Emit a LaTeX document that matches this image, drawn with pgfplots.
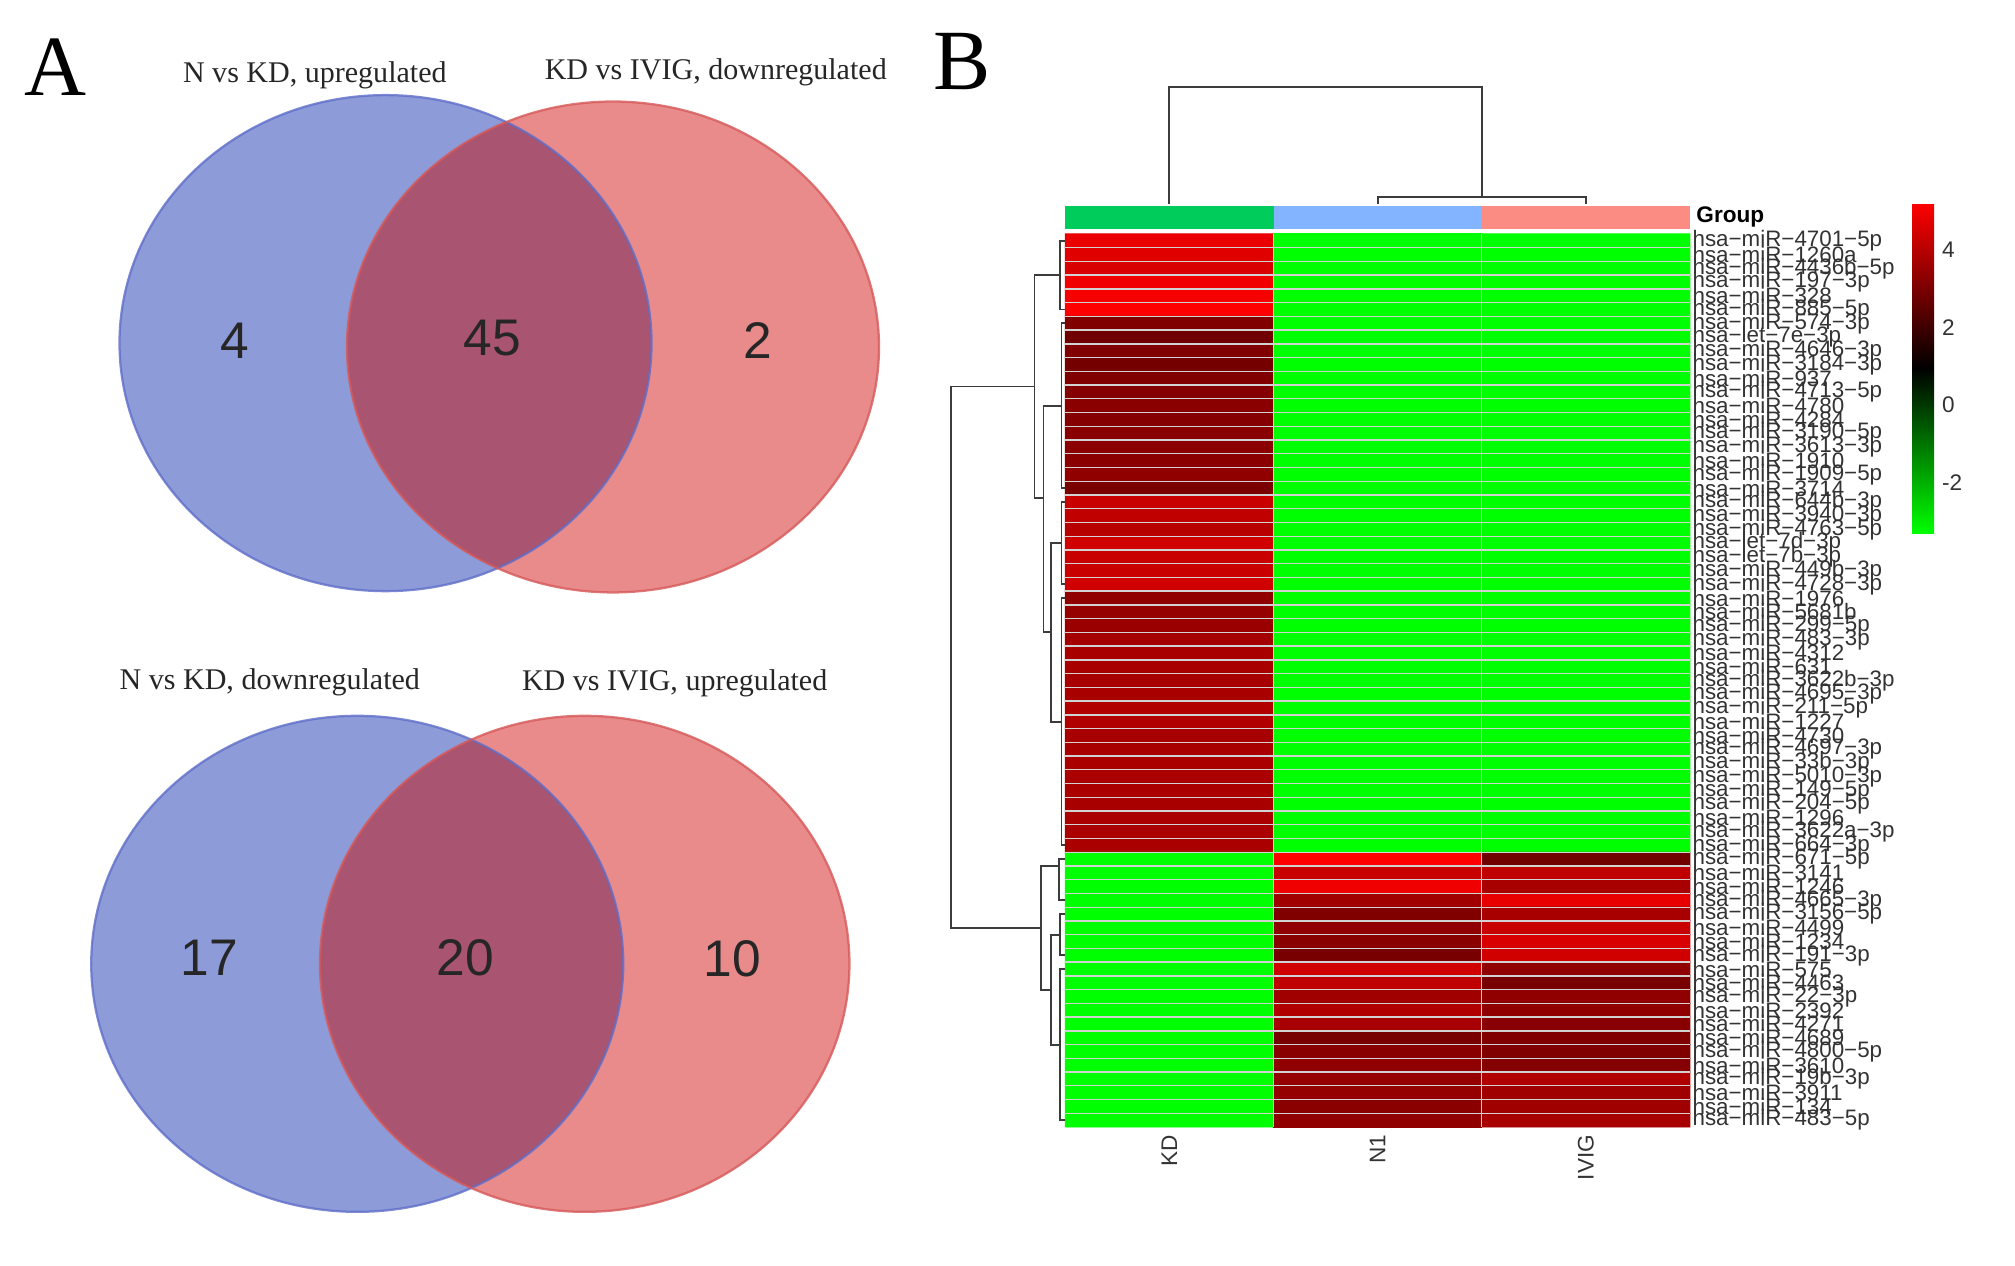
\documentclass[border=0pt]{standalone}
\usepackage{pgfplots}
\pgfplotsset{compat=1.18}
\usepackage{fontspec}
\setmainfont{Liberation Serif}
\newfontfamily\arial{Liberation Sans}

\definecolor{vblue}{RGB}{141,155,216}
\definecolor{vred}{RGB}{233,139,139}
\definecolor{vmix}{RGB}{169,84,112}
\definecolor{vblueedge}{RGB}{95,110,200}
\definecolor{vrededge}{RGB}{214,88,88}
\definecolor{gkd}{RGB}{0,204,92}
\definecolor{gn}{RGB}{130,180,255}
\definecolor{givig}{RGB}{250,140,132}
\definecolor{dend}{RGB}{60,60,60}

\begin{document}
\begin{tikzpicture}
% whole figure is 1568 x 985 picture units of 0.02cm
\useasboundingbox (0,0) rectangle (31.36cm,19.7cm);
% panel A: two Venn diagrams
\begin{axis}[name=base, at={(0,0)}, anchor=south west,
    scale only axis, width=31.36cm, height=19.7cm,
    xmin=0, xmax=1568, ymin=0, ymax=985, y dir=reverse,
    hide axis, clip=false]
  % top pair
  \fill[vblue] (axis cs:300,267) ellipse [x radius=207, y radius=193];
  \fill[vred] (axis cs:477,270) ellipse [x radius=207, y radius=191];
  \begin{scope}
    \clip (axis cs:300,267) ellipse [x radius=207, y radius=193];
    \fill[vmix] (axis cs:477,270) ellipse [x radius=207, y radius=191];
  \end{scope}
  \draw[vblueedge, line width=1pt, opacity=0.8] (axis cs:300,267) ellipse [x radius=207, y radius=193];
  \draw[vrededge, line width=1pt, opacity=0.8] (axis cs:477,270) ellipse [x radius=207, y radius=191];
  % bottom pair
  \fill[vblue] (axis cs:278,750) ellipse [x radius=207, y radius=193];
  \fill[vred] (axis cs:455,750) ellipse [x radius=206, y radius=193];
  \begin{scope}
    \clip (axis cs:278,750) ellipse [x radius=207, y radius=193];
    \fill[vmix] (axis cs:455,750) ellipse [x radius=206, y radius=193];
  \end{scope}
  \draw[vblueedge, line width=1pt, opacity=0.8] (axis cs:278,750) ellipse [x radius=207, y radius=193];
  \draw[vrededge, line width=1pt, opacity=0.8] (axis cs:455,750) ellipse [x radius=206, y radius=193];

  \begin{scope}[every node/.style={font=\fontsize{13.3}{15}\selectfont, text=black!85}]
    \node at (axis cs:245,59) {N vs KD, upregulated};
    \node at (axis cs:557,56) {KD vs IVIG, downregulated};
    \node at (axis cs:210,531) {N vs KD, downregulated};
    \node at (axis cs:525,532) {KD vs IVIG, upregulated};
  \end{scope}
  \begin{scope}[every node/.style={font=\arial\fontsize{22.8}{25}\selectfont, text=black!85}]
    \node at (axis cs:183,265) {4};
    \node at (axis cs:383,263) {45};
    \node at (axis cs:590,265) {2};
    \node at (axis cs:163,745) {17};
    \node at (axis cs:362,745) {20};
    \node at (axis cs:570,746) {10};
  \end{scope}
  \node[font=\fontsize{38}{40}\selectfont] at (axis cs:43,52) {A};
  \node[font=\fontsize{38}{40}\selectfont] at (axis cs:749,48) {B};
\end{axis}

% panel B: heatmap
\begin{axis}[at={(16.58cm,2.16cm)}, anchor=south west,
    scale only axis, width=9.72cm, height=13.9cm,
    xmin=829, xmax=1315, ymin=0.5, ymax=65.5, y dir=reverse,
    clip=false, axis on top,
    axis line style={draw=none},
    major tick length=0, minor tick length=0,
    xtick={910,1072,1234}, xticklabels={KD,N1,IVIG},
    xticklabel style={rotate=90, anchor=east, font=\arial\fontsize{10}{12}\selectfont, text=black!80},
    ytick={1,...,65},
    yticklabel pos=right,
    yticklabel style={anchor=west, inner sep=1pt, font=\arial\fontsize{9.9}{10}\selectfont, text=black!80},
    yticklabels={hsa−miR−4701−5p, hsa−miR−1260a, hsa−miR−4436b−5p, hsa−miR−197−3p, hsa−miR−328,
      hsa−miR−885−5p, hsa−miR−574−3p, hsa−let−7e−3p, hsa−miR−4646−3p, hsa−miR−3184−3p,
      hsa−miR−937, hsa−miR−4713−5p, hsa−miR−4780, hsa−miR−4284, hsa−miR−3190−5p,
      hsa−miR−3613−3p, hsa−miR−1910, hsa−miR−1909−5p, hsa−miR−3714, hsa−miR−644b−3p,
      hsa−miR−3940−3p, hsa−miR−4763−5p, hsa−let−7d−3p, hsa−let−7b−3p, hsa−miR−449b−3p,
      hsa−miR−4728−3p, hsa−miR−1976, hsa−miR−5681b, hsa−miR−299−5p, hsa−miR−483−3p,
      hsa−miR−4312, hsa−miR−631, hsa−miR−3622b−3p, hsa−miR−4695−3p, hsa−miR−211−5p,
      hsa−miR−1227, hsa−miR−4730, hsa−miR−4697−3p, hsa−miR−33b−3p, hsa−miR−5010−3p,
      hsa−miR−149−5p, hsa−miR−204−5p, hsa−miR−1296, hsa−miR−3622a−3p, hsa−miR−664−3p,
      hsa−miR−671−5p, hsa−miR−3141, hsa−miR−1246, hsa−miR−4665−3p, hsa−miR−3156−5p,
      hsa−miR−4499, hsa−miR−1234, hsa−miR−191−3p, hsa−miR−575, hsa−miR−4463,
      hsa−miR−22−3p, hsa−miR−2392, hsa−miR−4271, hsa−miR−4689, hsa−miR−4800−5p,
      hsa−miR−3610, hsa−miR−19b−3p, hsa−miR−3911, hsa−miR−134, hsa−miR−483−5p},
    minor ytick={1.5,2.5,...,64.5}, minor xtick={991,1153},
    yminorgrids, xminorgrids,
    minor grid style={white!65!gray, line width=0.6pt},
    colormap={rg}{rgb255(0cm)=(0,255,0); rgb255(1cm)=(0,0,0); rgb255(2cm)=(255,0,0)},
    point meta min=-3.3, point meta max=5.2,
    colorbar,
    colorbar style={at={(parent axis.north east)}, anchor=north west,
      xshift=3.16cm, yshift=0.48cm,
      scale only axis, width=0.34cm, height=5.14cm,
      y dir=normal, axis line style={draw=none},
      major tick length=0, minor tick num=0,
      ytick={-2,0,2,4}, yticklabel pos=right,
      yticklabel style={font=\arial\fontsize{10}{12}\selectfont, text=black!80},
      /pgf/number format/assume math mode=true},
  ]
  \addplot[matrix plot*, mesh/cols=3, point meta=explicit]
    table[row sep=\\, meta=c] {
    x y c\\
    910 1 4.85\\ 1072 1 -3.3\\ 1234 1 -3.3\\
    910 2 4.70\\ 1072 2 -3.3\\ 1234 2 -3.3\\
    910 3 4.55\\ 1072 3 -3.3\\ 1234 3 -3.3\\
    910 4 4.95\\ 1072 4 -3.3\\ 1234 4 -3.3\\
    910 5 5.05\\ 1072 5 -3.3\\ 1234 5 -3.3\\
    910 6 5.20\\ 1072 6 -3.3\\ 1234 6 -3.3\\
    910 7 3.08\\ 1072 7 -3.3\\ 1234 7 -3.3\\
    910 8 2.82\\ 1072 8 -3.3\\ 1234 8 -3.3\\
    910 9 3.08\\ 1072 9 -3.3\\ 1234 9 -3.3\\
    910 10 2.90\\ 1072 10 -3.3\\ 1234 10 -3.3\\
    910 11 3.08\\ 1072 11 -3.3\\ 1234 11 -3.3\\
    910 12 3.17\\ 1072 12 -3.3\\ 1234 12 -3.3\\
    910 13 3.25\\ 1072 13 -3.3\\ 1234 13 -3.3\\
    910 14 3.17\\ 1072 14 -3.3\\ 1234 14 -3.3\\
    910 15 3.22\\ 1072 15 -3.3\\ 1234 15 -3.3\\
    910 16 3.25\\ 1072 16 -3.3\\ 1234 16 -3.3\\
    910 17 3.25\\ 1072 17 -3.3\\ 1234 17 -3.3\\
    910 18 3.35\\ 1072 18 -3.3\\ 1234 18 -3.3\\
    910 19 2.98\\ 1072 19 -3.3\\ 1234 19 -3.3\\
    910 20 4.28\\ 1072 20 -3.3\\ 1234 20 -3.3\\
    910 21 4.15\\ 1072 21 -3.3\\ 1234 21 -3.3\\
    910 22 4.00\\ 1072 22 -3.3\\ 1234 22 -3.3\\
    910 23 4.42\\ 1072 23 -3.3\\ 1234 23 -3.3\\
    910 24 4.28\\ 1072 24 -3.3\\ 1234 24 -3.3\\
    910 25 4.28\\ 1072 25 -3.3\\ 1234 25 -3.3\\
    910 26 4.42\\ 1072 26 -3.3\\ 1234 26 -3.3\\
    910 27 3.35\\ 1072 27 -3.3\\ 1234 27 -3.3\\
    910 28 3.43\\ 1072 28 -3.3\\ 1234 28 -3.3\\
    910 29 3.52\\ 1072 29 -3.3\\ 1234 29 -3.3\\
    910 30 3.70\\ 1072 30 -3.3\\ 1234 30 -3.3\\
    910 31 3.75\\ 1072 31 -3.3\\ 1234 31 -3.3\\
    910 32 3.75\\ 1072 32 -3.3\\ 1234 32 -3.3\\
    910 33 3.75\\ 1072 33 -3.3\\ 1234 33 -3.3\\
    910 34 3.75\\ 1072 34 -3.3\\ 1234 34 -3.3\\
    910 35 3.88\\ 1072 35 -3.3\\ 1234 35 -3.3\\
    910 36 3.88\\ 1072 36 -3.3\\ 1234 36 -3.3\\
    910 37 3.75\\ 1072 37 -3.3\\ 1234 37 -3.3\\
    910 38 3.75\\ 1072 38 -3.3\\ 1234 38 -3.3\\
    910 39 3.78\\ 1072 39 -3.3\\ 1234 39 -3.3\\
    910 40 3.78\\ 1072 40 -3.3\\ 1234 40 -3.3\\
    910 41 3.78\\ 1072 41 -3.3\\ 1234 41 -3.3\\
    910 42 3.75\\ 1072 42 -3.3\\ 1234 42 -3.3\\
    910 43 3.78\\ 1072 43 -3.3\\ 1234 43 -3.3\\
    910 44 3.78\\ 1072 44 -3.3\\ 1234 44 -3.3\\
    910 45 3.78\\ 1072 45 -3.3\\ 1234 45 -3.3\\
    910 46 -3.3\\ 1072 46 5.20\\ 1234 46 2.82\\
    910 47 -3.3\\ 1072 47 4.28\\ 1234 47 4.15\\
    910 48 -3.3\\ 1072 48 4.95\\ 1234 48 3.75\\
    910 49 -3.3\\ 1072 49 3.62\\ 1234 49 4.82\\
    910 50 -3.3\\ 1072 50 3.08\\ 1234 50 3.75\\
    910 51 -3.3\\ 1072 51 3.35\\ 1234 51 4.28\\
    910 52 -3.3\\ 1072 52 3.22\\ 1234 52 4.55\\
    910 53 -3.3\\ 1072 53 2.95\\ 1234 53 4.42\\
    910 54 -3.3\\ 1072 54 4.42\\ 1234 54 3.35\\
    910 55 -3.3\\ 1072 55 4.15\\ 1234 55 2.95\\
    910 56 -3.3\\ 1072 56 3.62\\ 1234 56 3.35\\
    910 57 -3.3\\ 1072 57 3.88\\ 1234 57 3.35\\
    910 58 -3.3\\ 1072 58 3.75\\ 1234 58 3.22\\
    910 59 -3.3\\ 1072 59 2.95\\ 1234 59 3.08\\
    910 60 -3.3\\ 1072 60 3.22\\ 1234 60 3.08\\
    910 61 -3.3\\ 1072 61 3.35\\ 1234 61 3.17\\
    910 62 -3.3\\ 1072 62 3.43\\ 1234 62 3.88\\
    910 63 -3.3\\ 1072 63 3.43\\ 1234 63 3.62\\
    910 64 -3.3\\ 1072 64 3.25\\ 1234 64 3.62\\
    910 65 -3.3\\ 1072 65 3.35\\ 1234 65 3.75\\
  };

  % group annotation bar
  \addplot[fill=gkd, draw=none] coordinates {(829,-1.56) (991,-1.56) (991,0.12) (829,0.12)} -- cycle;
  \addplot[fill=gn, draw=none] coordinates {(991,-1.56) (1153,-1.56) (1153,0.12) (991,0.12)} -- cycle;
  \addplot[fill=givig, draw=none] coordinates {(1153,-1.56) (1315,-1.56) (1315,0.12) (1153,0.12)} -- cycle;
  \node[anchor=west, font=\arial\bfseries\fontsize{10}{12}\selectfont, inner sep=1pt] at (axis cs:1318,-0.72) {Group};

  % column dendrogram
  \addplot[dend, line width=0.9pt] coordinates {(910,-1.66) (910,-10.19) (1153,-10.19) (1153,-2.22)};
  \addplot[dend, line width=0.9pt] coordinates {(1072,-1.66) (1072,-2.22) (1234,-2.22) (1234,-1.66)};

  % row dendrogram
  \addplot[dend, line width=0.8pt] coordinates {(829,1) (825,1) (825,6) (829,6)};
  \addplot[dend, line width=0.8pt] coordinates {(829,7) (826,7) (826,19) (829,19)};
  \addplot[dend, line width=0.8pt] coordinates {(829,20) (826,20) (826,26) (829,26)};
  \addplot[dend, line width=0.8pt] coordinates {(829,27) (826,27) (826,45) (829,45)};
  \addplot[dend, line width=0.8pt] coordinates {(826,23) (818,23) (818,36) (826,36)};
  \addplot[dend, line width=0.8pt] coordinates {(826,13) (812,13) (812,29.5) (818,29.5)};
  \addplot[dend, line width=0.8pt] coordinates {(825,3.5) (805,3.5) (805,19.7) (812,19.7)};
  \addplot[dend, line width=0.8pt] coordinates {(829,46) (824,46) (824,49) (829,49)};
  \addplot[dend, line width=0.8pt] coordinates {(829,50) (825,50) (825,53) (829,53)};
  \addplot[dend, line width=0.8pt] coordinates {(829,54) (825,54) (825,65) (829,65)};
  \addplot[dend, line width=0.8pt] coordinates {(825,51.5) (818,51.5) (818,59.5) (825,59.5)};
  \addplot[dend, line width=0.8pt] coordinates {(824,46.5) (810,46.5) (810,55.5) (818,55.5)};
  \addplot[dend, line width=0.8pt] coordinates {(805,11.6) (740,11.6) (740,51) (810,51)};
\end{axis}
\end{tikzpicture}
\end{document}
